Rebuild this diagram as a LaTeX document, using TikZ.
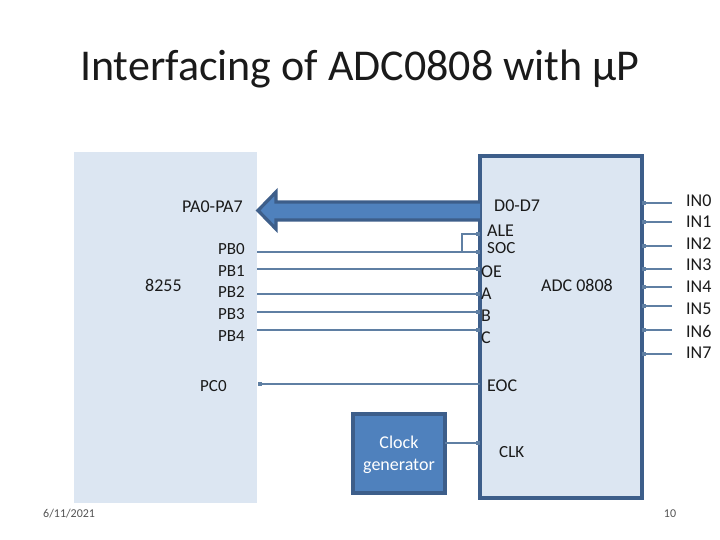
\documentclass[tikz,border=0pt]{standalone}
\usepackage{fontspec}
\setmainfont{Carlito}
\definecolor{blockfill}{HTML}{DCE6F2}
\definecolor{edge}{HTML}{3D5E8A}
\definecolor{wire}{HTML}{5F7FA3}
\definecolor{solid}{HTML}{4F81BD}
\definecolor{ink}{HTML}{1A1A1A}
\tikzset{
  chip/.style={draw=edge,line width=3.3pt,fill=blockfill,inner sep=0pt,outer sep=0pt,anchor=north west},
  plain/.style={fill=blockfill,inner sep=0pt,outer sep=0pt,anchor=north west},
  gen/.style={draw=edge,line width=3.3pt,fill=solid,inner sep=0pt,outer sep=0pt,anchor=north west,text=white,align=center,font=\fontsize{18}{22}\selectfont},
  lbl/.style={inner sep=0pt,text=ink,font=\fontsize{17}{17}\selectfont,anchor=west},
  lblb/.style={lbl,font=\fontsize{18}{18}\selectfont},
  wireline/.style={draw=wire,line width=2pt},
  pin/.style={fill=wire,inner sep=0pt,minimum size=4pt,rectangle},
  smalltext/.style={inner sep=0pt,text=ink!75,font=\fontsize{12}{12}\selectfont},
}
\begin{document}
\begin{tikzpicture}[x=1pt,y=-1pt]
\useasboundingbox (0,0) rectangle (720,540);
\node[inner sep=0pt,text=ink,font=\fontsize{44}{44}\selectfont,anchor=west] (title) at (80,69) {Interfacing of ADC0808 with µP};
\node[plain,minimum width=183pt,minimum height=351pt] (ppi) at (74,152) {};
\node[chip,minimum width=162pt,minimum height=342pt] (adc) at (480,156) {};
\node[gen,minimum width=92pt,minimum height=79pt,yshift=0pt] (clock) at (353,414) {\rule{0pt}{15pt}Clock\\generator};
% left chip labels
\node[lblb] (pa) at (182,207) {PA0-PA7};
\node[lblb] (n8255) at (145,285) {8255};
\node[lbl] (pb0) at (218,249) {PB0};
\node[lbl] (pb1) at (218,271) {PB1};
\node[lbl] (pb2) at (218,292) {PB2};
\node[lbl] (pb3) at (218,314) {PB3};
\node[lbl] (pb4) at (218,336) {PB4};
\node[lbl] (pc0) at (200,386) {PC0};
% ADC labels
\node[lblb] (d) at (494,206) {D0-D7};
\node[lblb] (ale) at (487,231) {ALE};
\node[lbl] (soc) at (487,248) {SOC};
\node[lblb] (oe) at (481,272) {OE};
\node[lblb] (la) at (481,294) {A};
\node[lblb] (lb) at (481,316) {B};
\node[lblb] (lc) at (481,338) {C};
\node[lblb] (eoc) at (487,386) {EOC};
\node[lbl] (clk) at (499,452) {CLK};
\node[lblb] (name) at (541,285) {ADC 0808};
% inputs
\foreach \i/\y/\ly in {0/203/201,1/222/222,2/246/244,3/269/265,4/287/287,5/306/309,6/330/331,7/354/353}{
  \coordinate (inp\i) at (642,\y);
  \coordinate (ine\i) at (672,\y);
  \node[lblb] (inl\i) at (686,\ly) {IN\i};
  \draw[wireline] (inp\i) -- (ine\i);
  \node[pin,minimum size=3.5pt] at (644,\y) {};
}
% left wires
\foreach \n/\y in {soc/252,oe/269,a/294,b/312,c/330}{
  \coordinate (l\n) at (257,\y);
  \coordinate (r\n) at (480,\y);
  \draw[wireline] (l\n) -- (r\n);
  \node[pin] at (478,\y) {};
}
\coordinate (rale) at (480,234);
\coordinate (jt) at (462,234);
\coordinate (jb) at (462,252);
\draw[wireline] (rale) -- (jt) -- (jb);
\node[pin] at (478,234) {};
% EOC
\coordinate (peoc) at (480,384);
\coordinate (ppc) at (260,384);
\draw[wireline] (peoc) -- (ppc);
\node[pin] at (ppc) {};
% CLK
\coordinate (pclk) at (480,443);
\draw[wireline] (clock.east |- pclk) -- (pclk);
\node[pin] at (478,443) {};
% bus arrow
\draw[edge,line width=3.3pt,fill=solid,line join=miter]
  (adc.west |- 0,202) -- (276,202) -- (276,192) -- (258,210.5) -- (276,229) -- (276,220) -- (adc.west |- 0,220);
% footer
\node[smalltext,anchor=west] (date) at (43,514) {6/11/2021};
\node[smalltext] (page) at (670,514) {10};
\end{tikzpicture}
\end{document}
